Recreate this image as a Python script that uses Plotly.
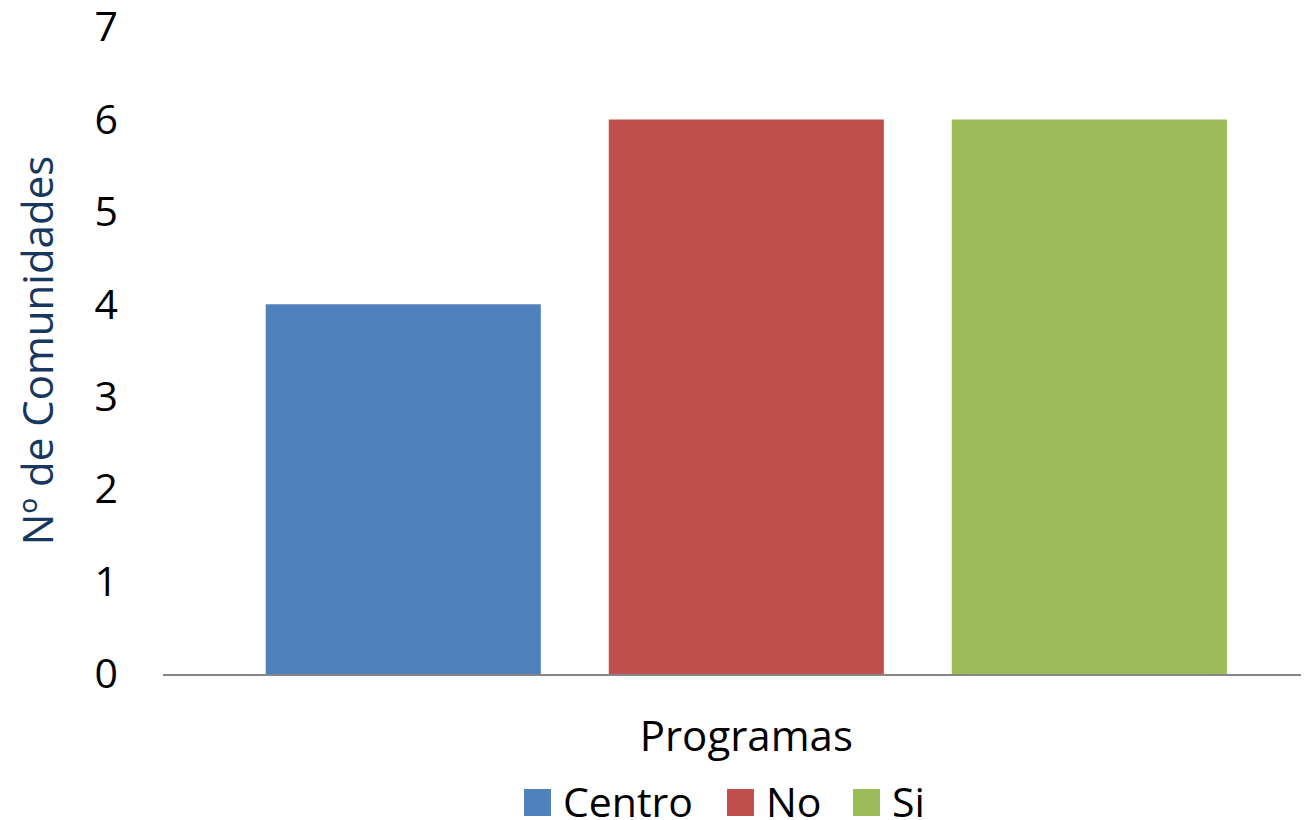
import plotly.graph_objects as go

category = ["Programas"]
series_names = ["Centro", "No", "Si"]
series_values = [[4], [6], [6]]
colors = ["#4F81BD", "#C0504D", "#9BBB59"]
y_ticks = [0, 1, 2, 3, 4, 5, 6, 7]

FONT = "Open Sans, Lato, DejaVu Sans, sans-serif"
OFF = 8  # page body margin of the html page
W, H = 1309 - OFF, 820 - OFF
ML, MR, MT = 163 - OFF, 0, 27 - OFF
PLOT_BOTTOM = 674 - OFF
MB = H - PLOT_BOTTOM
PW, PH = W - ML - MR, H - MT - MB

def px_x(px):
    return (px - OFF - ML) / PW

def px_y(py):
    return (PLOT_BOTTOM - (py - OFF)) / PH

fig = go.Figure()
for name, vals, col in zip(series_names, series_values, colors):
    fig.add_trace(go.Bar(x=category, y=vals, name=name, showlegend=False,
                         marker=dict(color=col, line=dict(width=0))))

# custom legend (large square swatches like the original)
legend_square_left = [524, 727, 853]
sq = 27
for name, col, left in zip(series_names, colors, legend_square_left):
    fig.add_shape(type="rect", xref="paper", yref="paper",
                  x0=px_x(left), x1=px_x(left + sq), y0=px_y(816), y1=px_y(789),
                  fillcolor=col, line=dict(width=0))
    fig.add_annotation(xref="paper", yref="paper", x=px_x(left + sq + 10), y=px_y(801),
                       text=name, showarrow=False, xanchor="left", yanchor="middle",
                       font=dict(size=41, color="black", family=FONT))

fig.update_layout(
    width=W, height=H,
    margin=dict(l=ML, r=MR, t=MT, b=MB, autoexpand=False),
    paper_bgcolor="white", plot_bgcolor="white",
    barmode="group", bargap=0.102, bargroupgap=0.198,
    font=dict(family=FONT, size=41, color="black"),
    showlegend=False,
    xaxis=dict(range=[-0.509, 0.491], showline=True, linecolor="#868686", linewidth=2,
               ticks="", showgrid=False, ticklabelstandoff=25, tickfont=dict(size=42),
               automargin=False),
    yaxis=dict(range=[0, 7], tickvals=y_ticks, showgrid=False, zeroline=False, showline=False,
               ticks="", ticklabelstandoff=44, tickfont=dict(size=41), automargin=False,
               ticklabeloverflow="allow",
               title=dict(text="Nº de Comunidades", font=dict(size=42, color="#17375E"), standoff=28)),
)

fig.write_html("out.html")
